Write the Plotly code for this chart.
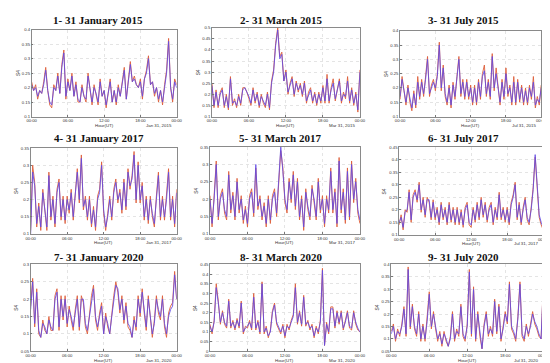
import plotly.graph_objects as go

W, H = 550, 363

titles = ["1- 31 January 2015", "2- 31 March 2015", "3- 31 July 2015",
          "4- 31 January 2017", "5- 31 March 2017", "6- 31 July 2017",
          "7- 31 January 2020", "8- 31 March 2020", "9- 31 July 2020"]
dates = ["Jan 31, 2015", "Mar 31, 2015", "Jul 31, 2015",
         "Jan 31, 2017", "Mar 31, 2017", "Jul 31, 2017",
         "Jan 31, 2020", "Mar 31, 2020", "Jul 31, 2020"]
xtick_vals = [0, 6, 12, 18, 24]
xtick_text = ["00:00", "06:00", "12:00", "18:00", "00:00"]

# S4 values, one sample every 20 minutes (blue series)
blue_jan2015 = [0.21,0.19,0.20,0.17,0.19,0.18,0.21,0.26,0.19,0.15,0.14,0.20,0.19,0.24,0.18,0.27,0.32,0.17,0.22,0.19,0.24,0.17,0.21,0.16,0.15,0.20,0.17,0.16,0.24,0.19,0.15,0.20,0.18,0.15,0.22,0.17,0.19,0.14,0.18,0.22,0.15,0.19,0.15,0.20,0.17,0.21,0.26,0.16,0.22,0.28,0.22,0.23,0.21,0.20,0.22,0.17,0.23,0.25,0.30,0.21,0.22,0.18,0.20,0.16,0.19,0.15,0.20,0.25,0.36,0.20,0.16,0.22,0.20]
blue_mar2015 = [0.24,0.15,0.21,0.15,0.20,0.22,0.15,0.19,0.14,0.27,0.16,0.17,0.15,0.19,0.16,0.22,0.23,0.21,0.19,0.16,0.22,0.17,0.20,0.15,0.19,0.17,0.15,0.20,0.14,0.25,0.30,0.42,0.49,0.36,0.38,0.26,0.30,0.21,0.24,0.27,0.20,0.25,0.22,0.24,0.20,0.25,0.17,0.20,0.22,0.17,0.20,0.16,0.20,0.17,0.23,0.17,0.27,0.17,0.22,0.25,0.18,0.22,0.26,0.17,0.20,0.19,0.26,0.17,0.22,0.16,0.20,0.13,0.30]
blue_jul2015 = [0.17,0.23,0.19,0.15,0.20,0.16,0.13,0.18,0.14,0.22,0.17,0.22,0.18,0.23,0.30,0.18,0.20,0.22,0.20,0.24,0.35,0.20,0.27,0.18,0.15,0.20,0.14,0.21,0.17,0.23,0.30,0.18,0.22,0.17,0.22,0.17,0.20,0.15,0.20,0.15,0.22,0.17,0.24,0.26,0.18,0.22,0.17,0.31,0.20,0.25,0.20,0.15,0.22,0.17,0.25,0.18,0.20,0.15,0.22,0.15,0.22,0.16,0.20,0.15,0.19,0.15,0.20,0.17,0.22,0.14,0.16,0.15,0.20]
blue_jan2017 = [0.10,0.28,0.24,0.13,0.18,0.12,0.22,0.17,0.12,0.27,0.15,0.20,0.13,0.22,0.25,0.15,0.20,0.14,0.20,0.17,0.22,0.15,0.22,0.28,0.20,0.32,0.18,0.20,0.15,0.20,0.13,0.17,0.12,0.20,0.22,0.30,0.17,0.12,0.15,0.20,0.15,0.22,0.25,0.20,0.22,0.17,0.25,0.18,0.28,0.24,0.26,0.33,0.20,0.30,0.20,0.24,0.15,0.20,0.14,0.20,0.16,0.13,0.20,0.27,0.15,0.20,0.15,0.20,0.28,0.15,0.20,0.13,0.22]
blue_mar2017 = [0.20,0.13,0.20,0.30,0.15,0.20,0.22,0.17,0.15,0.27,0.17,0.21,0.15,0.25,0.17,0.20,0.14,0.17,0.13,0.20,0.22,0.16,0.30,0.18,0.20,0.15,0.18,0.13,0.20,0.14,0.20,0.22,0.16,0.25,0.35,0.28,0.20,0.17,0.25,0.20,0.27,0.18,0.25,0.15,0.20,0.12,0.22,0.18,0.15,0.23,0.20,0.15,0.25,0.17,0.20,0.13,0.20,0.17,0.28,0.17,0.22,0.13,0.31,0.17,0.22,0.14,0.28,0.15,0.30,0.20,0.25,0.17,0.14]
blue_jul2017 = [0.15,0.17,0.13,0.19,0.20,0.27,0.16,0.25,0.27,0.24,0.30,0.20,0.24,0.18,0.24,0.24,0.17,0.23,0.17,0.20,0.15,0.22,0.17,0.20,0.15,0.22,0.16,0.20,0.15,0.20,0.15,0.19,0.14,0.20,0.22,0.15,0.14,0.20,0.16,0.22,0.17,0.24,0.18,0.22,0.16,0.20,0.22,0.15,0.20,0.17,0.26,0.17,0.20,0.16,0.20,0.15,0.22,0.25,0.30,0.17,0.22,0.15,0.20,0.24,0.17,0.15,0.20,0.28,0.42,0.28,0.18,0.15,0.13]
blue_jan2020 = [0.17,0.25,0.13,0.22,0.11,0.09,0.13,0.12,0.10,0.14,0.12,0.11,0.20,0.22,0.12,0.20,0.15,0.20,0.13,0.17,0.15,0.12,0.16,0.20,0.12,0.20,0.20,0.13,0.11,0.15,0.20,0.23,0.15,0.12,0.15,0.18,0.10,0.15,0.13,0.10,0.15,0.20,0.24,0.23,0.17,0.20,0.14,0.18,0.13,0.12,0.09,0.14,0.12,0.20,0.16,0.22,0.17,0.12,0.20,0.15,0.10,0.13,0.20,0.17,0.15,0.20,0.13,0.10,0.15,0.17,0.18,0.27,0.20]
blue_mar2020 = [0.13,0.10,0.15,0.33,0.25,0.15,0.20,0.15,0.13,0.26,0.13,0.15,0.12,0.16,0.13,0.25,0.10,0.12,0.13,0.15,0.12,0.28,0.12,0.15,0.10,0.35,0.10,0.12,0.08,0.10,0.20,0.24,0.15,0.12,0.10,0.13,0.08,0.13,0.12,0.15,0.18,0.33,0.15,0.20,0.14,0.28,0.14,0.15,0.12,0.13,0.08,0.12,0.10,0.15,0.42,0.03,0.14,0.10,0.22,0.22,0.13,0.20,0.15,0.20,0.12,0.15,0.20,0.13,0.12,0.20,0.15,0.12,0.10]
blue_jul2020 = [0.12,0.15,0.10,0.13,0.12,0.15,0.22,0.12,0.38,0.15,0.23,0.15,0.12,0.20,0.10,0.15,0.10,0.17,0.28,0.15,0.20,0.15,0.10,0.12,0.08,0.12,0.10,0.07,0.10,0.20,0.10,0.13,0.12,0.23,0.12,0.10,0.15,0.37,0.12,0.30,0.10,0.20,0.12,0.06,0.15,0.20,0.12,0.14,0.12,0.25,0.13,0.23,0.10,0.14,0.20,0.17,0.32,0.15,0.13,0.10,0.18,0.32,0.12,0.10,0.15,0.12,0.15,0.20,0.17,0.15,0.12,0.10,0.30]

# S4 values (red series)
red_jan2015 = [0.22,0.19,0.21,0.16,0.19,0.18,0.22,0.27,0.19,0.14,0.13,0.21,0.19,0.25,0.18,0.28,0.33,0.16,0.23,0.19,0.25,0.17,0.22,0.15,0.15,0.21,0.17,0.15,0.25,0.19,0.14,0.21,0.18,0.14,0.23,0.17,0.19,0.13,0.18,0.23,0.15,0.19,0.14,0.21,0.17,0.22,0.27,0.16,0.23,0.29,0.22,0.24,0.21,0.20,0.23,0.16,0.23,0.26,0.31,0.21,0.22,0.17,0.20,0.15,0.19,0.14,0.21,0.26,0.37,0.20,0.15,0.23,0.21]
red_mar2015 = [0.25,0.14,0.22,0.14,0.21,0.23,0.14,0.20,0.13,0.28,0.15,0.18,0.14,0.20,0.15,0.23,0.23,0.21,0.18,0.15,0.23,0.16,0.21,0.14,0.20,0.16,0.14,0.21,0.13,0.26,0.31,0.43,0.50,0.37,0.39,0.26,0.31,0.20,0.25,0.28,0.19,0.26,0.21,0.25,0.19,0.26,0.16,0.21,0.23,0.16,0.21,0.15,0.21,0.16,0.24,0.16,0.29,0.16,0.23,0.27,0.17,0.23,0.27,0.16,0.21,0.18,0.28,0.16,0.23,0.15,0.21,0.12,0.31]
red_jul2015 = [0.16,0.24,0.19,0.14,0.21,0.15,0.12,0.19,0.13,0.24,0.16,0.23,0.17,0.24,0.31,0.17,0.21,0.23,0.19,0.25,0.36,0.19,0.28,0.17,0.14,0.21,0.13,0.22,0.16,0.24,0.31,0.17,0.23,0.16,0.23,0.16,0.21,0.14,0.21,0.14,0.23,0.16,0.25,0.28,0.17,0.23,0.16,0.32,0.19,0.27,0.19,0.14,0.23,0.16,0.27,0.17,0.21,0.14,0.24,0.14,0.23,0.15,0.21,0.14,0.20,0.14,0.21,0.16,0.24,0.13,0.17,0.14,0.21]
red_jan2017 = [0.11,0.30,0.25,0.12,0.19,0.11,0.23,0.16,0.11,0.28,0.14,0.21,0.12,0.23,0.26,0.14,0.21,0.13,0.21,0.16,0.23,0.14,0.23,0.29,0.19,0.33,0.17,0.21,0.14,0.21,0.12,0.18,0.11,0.21,0.23,0.31,0.16,0.11,0.16,0.21,0.14,0.23,0.26,0.19,0.23,0.16,0.26,0.17,0.29,0.23,0.27,0.34,0.19,0.31,0.19,0.25,0.14,0.21,0.13,0.21,0.15,0.12,0.21,0.28,0.14,0.21,0.14,0.21,0.29,0.14,0.21,0.12,0.23]
red_mar2017 = [0.21,0.12,0.21,0.31,0.14,0.21,0.23,0.16,0.14,0.28,0.16,0.22,0.14,0.26,0.16,0.21,0.13,0.18,0.12,0.21,0.23,0.15,0.29,0.17,0.21,0.14,0.19,0.12,0.21,0.13,0.21,0.23,0.15,0.26,0.34,0.29,0.19,0.16,0.26,0.19,0.28,0.17,0.26,0.14,0.21,0.11,0.23,0.17,0.14,0.24,0.19,0.14,0.26,0.16,0.21,0.12,0.21,0.16,0.29,0.16,0.23,0.12,0.32,0.16,0.23,0.13,0.29,0.14,0.31,0.19,0.26,0.16,0.13]
red_jul2017 = [0.14,0.18,0.12,0.20,0.19,0.28,0.15,0.26,0.28,0.23,0.31,0.19,0.25,0.17,0.25,0.23,0.16,0.24,0.16,0.21,0.14,0.23,0.16,0.21,0.14,0.23,0.15,0.21,0.14,0.21,0.14,0.20,0.13,0.21,0.23,0.14,0.13,0.21,0.15,0.23,0.16,0.25,0.17,0.23,0.15,0.21,0.23,0.14,0.21,0.16,0.27,0.16,0.21,0.15,0.21,0.14,0.23,0.26,0.31,0.16,0.23,0.14,0.21,0.25,0.16,0.14,0.21,0.29,0.41,0.29,0.17,0.14,0.12]
red_jan2020 = [0.18,0.26,0.12,0.23,0.10,0.09,0.14,0.11,0.10,0.15,0.11,0.11,0.21,0.23,0.11,0.21,0.14,0.21,0.12,0.18,0.14,0.11,0.17,0.21,0.11,0.21,0.19,0.12,0.10,0.16,0.21,0.24,0.14,0.11,0.16,0.19,0.10,0.16,0.12,0.10,0.16,0.21,0.25,0.22,0.16,0.21,0.13,0.19,0.12,0.11,0.09,0.15,0.11,0.21,0.15,0.23,0.16,0.11,0.21,0.14,0.09,0.14,0.21,0.16,0.14,0.21,0.12,0.09,0.16,0.18,0.19,0.28,0.20]
red_mar2020 = [0.14,0.09,0.16,0.35,0.26,0.14,0.21,0.14,0.12,0.27,0.12,0.16,0.11,0.17,0.12,0.26,0.09,0.13,0.12,0.16,0.11,0.30,0.11,0.16,0.09,0.36,0.09,0.13,0.07,0.11,0.21,0.25,0.14,0.11,0.09,0.14,0.07,0.14,0.11,0.16,0.19,0.35,0.14,0.21,0.13,0.29,0.13,0.16,0.11,0.14,0.07,0.13,0.09,0.16,0.43,0.03,0.15,0.09,0.23,0.23,0.12,0.21,0.14,0.21,0.11,0.16,0.21,0.12,0.11,0.21,0.14,0.11,0.10]
red_jul2020 = [0.13,0.16,0.09,0.14,0.11,0.16,0.23,0.11,0.39,0.14,0.24,0.14,0.11,0.21,0.09,0.16,0.09,0.18,0.29,0.14,0.21,0.14,0.09,0.13,0.07,0.13,0.09,0.07,0.11,0.21,0.09,0.14,0.11,0.24,0.11,0.09,0.16,0.38,0.11,0.31,0.09,0.21,0.11,0.06,0.16,0.21,0.11,0.15,0.11,0.26,0.12,0.24,0.09,0.15,0.21,0.16,0.33,0.14,0.12,0.09,0.19,0.33,0.11,0.09,0.16,0.11,0.16,0.21,0.16,0.14,0.11,0.10,0.31]

blue_series = [blue_jan2015, blue_mar2015, blue_jul2015, blue_jan2017, blue_mar2017,
               blue_jul2017, blue_jan2020, blue_mar2020, blue_jul2020]
red_series = [red_jan2015, red_mar2015, red_jul2015, red_jan2017, red_mar2017,
              red_jul2017, red_jan2020, red_mar2020, red_jul2020]

# layout (pixel boxes: left, right, top, bottom) and y-axis ranges
boxes = [(19, 167, 19, 107), (203, 354, 17, 107), (395, 539, 20, 107),
         (18, 167, 139, 226), (201, 354, 138, 226), (394, 541, 138, 227),
         (18, 167, 257, 345), (201, 354, 257, 345), (386, 541, 257, 345)]
yranges = [(0.1, 0.4), (0.1, 0.5), (0.1, 0.4),
           (0.1, 0.35), (0.1, 0.35), (0.1, 0.45),
           (0.05, 0.3), (0.0, 0.45), (0.05, 0.4)]
title_pos = [(87, 9.5), (273, 9.5), (460, 9.5),
             (88, 129), (272, 129), (460, 129),
             (88, 249.5), (273, 249.5), (460, 249.5)]

BLUE = "rgb(96,74,230)"
RED = "rgb(222,96,60)"
TICKFONT = dict(family="Liberation Sans, Arial", size=4.2, color="#333")

fig = go.Figure()
annotations = []
layout_axes = {}
for i in range(9):
    n = i + 1
    xa = "x" if n == 1 else f"x{n}"
    ya = "y" if n == 1 else f"y{n}"
    b = blue_series[i]
    r = red_series[i]
    hb = [24 * k / (len(b) - 1) for k in range(len(b))]
    hr = [24 * k / (len(r) - 1) for k in range(len(r))]
    fig.add_trace(go.Scatter(x=hr, y=r, mode="lines", line=dict(color=RED, width=0.9),
                             xaxis=xa, yaxis=ya, showlegend=False))
    fig.add_trace(go.Scatter(x=hb, y=b, mode="lines", line=dict(color=BLUE, width=0.9),
                             opacity=0.95, xaxis=xa, yaxis=ya, showlegend=False))
    L, R, T, B = boxes[i]
    common = dict(showline=True, linecolor="#8a8a8a", linewidth=0.6, mirror=True,
                  showgrid=True, gridcolor="#e4e4e4", gridwidth=0.5, griddash="dot",
                  zeroline=False, ticks="inside", ticklen=2, tickwidth=0.5,
                  tickcolor="#777", tickfont=TICKFONT)
    layout_axes["xaxis" if n == 1 else f"xaxis{n}"] = dict(
        domain=[L / W, R / W], anchor=ya, range=[0, 24],
        tickvals=xtick_vals, ticktext=xtick_text, **common)
    y0, y1 = yranges[i]
    layout_axes["yaxis" if n == 1 else f"yaxis{n}"] = dict(
        domain=[1 - B / H, 1 - T / H], anchor=xa, range=[y0, y1],
        dtick=0.05, tick0=0, **common)
    tx, ty = title_pos[i]
    annotations.append(dict(text=f"<b>{titles[i]}</b>", x=tx / W, y=1 - ty / H,
                            xref="paper", yref="paper", showarrow=False,
                            xanchor="center", yanchor="middle",
                            font=dict(family="Liberation Serif, DejaVu Serif", size=11, color="#111")))
    annotations.append(dict(text="Hour(UT)", x=(L + R) / 2 / W, y=1 - (B + 9) / H,
                            xref="paper", yref="paper", showarrow=False,
                            xanchor="center", yanchor="middle",
                            font=dict(family="Liberation Sans, Arial", size=4.4, color="#333")))
    annotations.append(dict(text=dates[i], x=(R - 3) / W, y=1 - (B + 9) / H,
                            xref="paper", yref="paper", showarrow=False,
                            xanchor="right", yanchor="middle",
                            font=dict(family="Liberation Sans, Arial", size=4.4, color="#333")))
    annotations.append(dict(text="S4", x=(L - 14) / W, y=1 - (T + B) / 2 / H,
                            xref="paper", yref="paper", showarrow=False, textangle=-90,
                            xanchor="center", yanchor="middle",
                            font=dict(family="Liberation Sans, Arial", size=4.8, color="#333")))

fig.update_layout(width=W, height=H, margin=dict(l=0, r=0, t=0, b=0),
                  paper_bgcolor="white", plot_bgcolor="white",
                  annotations=annotations, **layout_axes)

fig.write_html("out.html")
